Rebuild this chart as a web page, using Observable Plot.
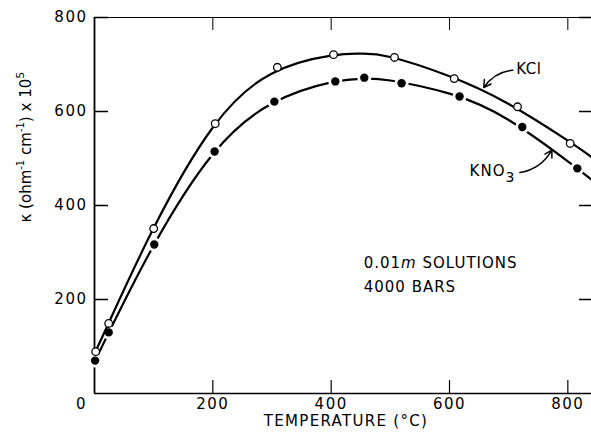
<!DOCTYPE html>
<html><head><meta charset="utf-8">
<script src="https://cdn.jsdelivr.net/npm/d3@7"></script>
<script src="https://cdn.jsdelivr.net/npm/@observablehq/plot@0.6"></script>
<style>body{margin:0;background:#fff}</style>
</head><body><div id="chart"></div>
<script>
// Measured points (open circles = KCl, filled = KNO3)
const kclTemp = [2, 24, 100, 204, 309, 404, 507, 608, 715, 804];
const kclKappa = [89, 149, 351, 574, 694, 721, 715, 670, 610, 532];
const kno3Temp = [1, 24, 101, 203, 304, 407, 456, 519, 617, 723, 816];
const kno3Kappa = [70, 130, 317, 515, 621, 664, 672, 660, 632, 567, 479];
// Smooth curves
const kclCurveTemp = [1, 24, 100, 200, 300, 400, 450, 500, 600, 700, 800, 840];
const kclCurveKappa = [88, 150, 352, 566, 681, 719, 723, 716, 675, 616, 538, 503];
const kno3CurveTemp = [1, 24, 100, 200, 300, 400, 456, 500, 600, 700, 800, 840];
const kno3CurveKappa = [70, 129, 315, 509, 617, 662, 670, 666, 638, 582, 494, 455];
// Axis ticks
const xTicks = [200, 400, 600, 800];
const yTicks = [200, 400, 600, 800];
// Labels
const xLabel = "TEMPERATURE (°C)";
const yLabel = "κ (ohm-1 cm-1) x 105";
const notes = [{t: "0.01m SOLUTIONS", x: 455, y: 277}, {t: "4000 BARS", x: 455, y: 226}];
const seriesLabels = [{t: "KCl", x: 713, y: 691}, {t: "KNO3", x: 634, y: 472}];
const arrows = [{x1: 707, y1: 688, x2: 658, y2: 651}, {x1: 719, y1: 470, x2: 773, y2: 518}];

const kcl = kclTemp.map((t, i) => ({t, k: kclKappa[i]}));
const kno3 = kno3Temp.map((t, i) => ({t, k: kno3Kappa[i]}));
const kclCurve = kclCurveTemp.map((t, i) => ({t, k: kclCurveKappa[i]}));
const kno3Curve = kno3CurveTemp.map((t, i) => ({t, k: kno3CurveKappa[i]}));

const font = "DejaVu Sans";
const chart = Plot.plot({
  width: 591, height: 439,
  marginLeft: 94, marginRight: 0, marginTop: 17, marginBottom: 46,
  style: {fontFamily: font, fontSize: "15px", color: "black", background: "white"},
  x: {domain: [0, 840]},
  y: {domain: [0, 800]},
  marks: [
    Plot.axisX(xTicks, {tickSize: 0, tickPadding: 5, label: null, fontSize: 15}),
    Plot.axisY(yTicks, {tickSize: 0, tickPadding: 7, label: null, fontSize: 15}),
    Plot.text([0], {x: 0, y: 0, text: d => String(d), dx: -13, dy: 11, fontSize: 15}),
    Plot.text([xLabel], {frameAnchor: "bottom", text: d => d, dy: 32, dx: 3, fontSize: 15}),
    Plot.text([yLabel], {frameAnchor: "left", text: d => d, rotate: -90, dx: -68, dy: 17, fontSize: 15}),
    // frame lines
    Plot.ruleX([0], {stroke: "black", strokeWidth: 1.8}),
    Plot.ruleY([0], {stroke: "black", strokeWidth: 1.6}),
    Plot.ruleY([800], {stroke: "black", strokeWidth: 1.2}),
    // inward ticks
    Plot.ruleX(xTicks, {x: d => d, insetTop: 363, stroke: "black", strokeWidth: 1.2}),
    Plot.ruleX(xTicks, {x: d => d, insetBottom: 363, stroke: "black", strokeWidth: 1}),
    Plot.ruleY(yTicks, {y: d => d, insetRight: 483, stroke: "black", strokeWidth: 1.5}),
    Plot.ruleY(yTicks, {y: d => d, insetLeft: 485, stroke: "black", strokeWidth: 1.5}),
    // KNO3
    Plot.line(kno3Curve, {x: "t", y: "k", curve: "natural", stroke: "black", strokeWidth: 2.2}),
    Plot.dot(kno3, {x: "t", y: "k", r: 7, fill: "white"}),
    Plot.dot(kno3, {x: "t", y: "k", r: 4.2, fill: "black"}),
    // KCl
    Plot.line(kclCurve, {x: "t", y: "k", curve: "natural", stroke: "black", strokeWidth: 2.2}),
    Plot.dot(kcl, {x: "t", y: "k", r: 3.8, fill: "white", stroke: "black", strokeWidth: 1.3}),
    // annotations
    Plot.text(seriesLabels, {x: "x", y: "y", text: "t", textAnchor: "start", fontSize: 15}),
    Plot.text(notes, {x: "x", y: "y", text: "t", textAnchor: "start", fontSize: 15}),
    Plot.arrow(arrows, {x1: "x1", y1: "y1", x2: "x2", y2: "y2", bend: -25, headLength: 8, stroke: "black", strokeWidth: 1.5})
  ]
});
document.getElementById("chart").appendChild(chart);

// rich text: italics, sub/superscripts, letter spacing
const NS = "http://www.w3.org/2000/svg";
function rich(el, parts) {
  el.textContent = "";
  for (const p of parts) {
    const s = document.createElementNS(NS, "tspan");
    s.textContent = p.s;
    if (p.italic) s.setAttribute("font-style", "italic");
    if (p.shift) { s.setAttribute("dy", p.shift); s.setAttribute("font-size", p.size || "11"); }
    if (p.back) s.setAttribute("dy", p.back);
    el.append(s);
  }
}
chart.querySelectorAll("text").forEach(el => {
  const t = el.textContent;
  if (t === "0.01m SOLUTIONS") {
    el.setAttribute("letter-spacing", "1");
    rich(el, [{s: "0.01"}, {s: "m", italic: true}, {s: " SOLUTIONS"}]);
  } else if (t === "4000 BARS") {
    el.setAttribute("letter-spacing", "1");
  } else if (t === "KNO3") {
    el.setAttribute("letter-spacing", "1");
    rich(el, [{s: "KNO"}, {s: "3", shift: "6", size: "14"}]);
  } else if (t === "KCl") {
    el.setAttribute("letter-spacing", "0.5");
  } else if (t === xLabel) {
    el.setAttribute("letter-spacing", "1.3");
  } else if (t === yLabel) {
    rich(el, [{s: "κ (ohm"}, {s: "-1", shift: "-7", size: "10"}, {s: " cm", back: "7"},
              {s: "-1", shift: "-7", size: "10"}, {s: ") x 10", back: "7"}, {s: "5", shift: "-7", size: "11"}]);
  } else if (/^\d+$/.test(t)) {
    el.setAttribute("letter-spacing", "1.5");
  }
});
</script>
</body></html>
